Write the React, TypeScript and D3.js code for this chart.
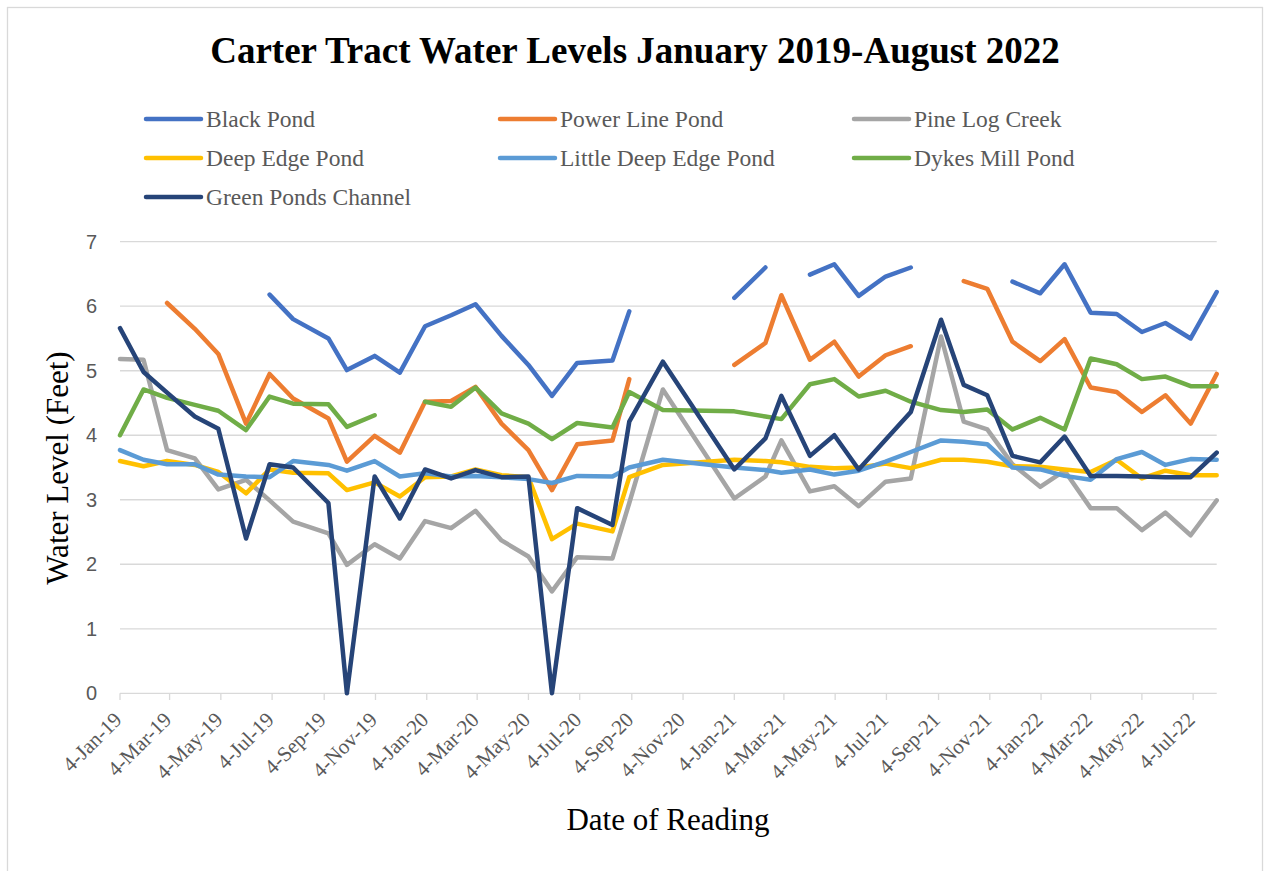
import React from "react";
import * as d3 from "d3";

const readingDates = [
  "2019-01-04","2019-02-01","2019-03-01","2019-04-03","2019-05-01","2019-06-03","2019-07-01","2019-07-29",
  "2019-09-09","2019-10-01","2019-11-03","2019-12-03","2020-01-02","2020-02-02","2020-03-02","2020-04-02",
  "2020-05-04","2020-06-01","2020-07-01","2020-08-12","2020-09-01","2020-10-11","2021-01-04","2021-02-10",
  "2021-03-01","2021-04-04","2021-05-03","2021-06-01","2021-07-03","2021-08-02","2021-09-07","2021-10-04",
  "2021-11-01","2021-12-01","2022-01-03","2022-02-01","2022-03-04","2022-04-04","2022-05-04","2022-06-01",
  "2022-07-01","2022-08-01",
];

const blackPond = [null,null,null,null,null,null,6.18,5.80,5.50,5.01,5.23,4.97,5.69,5.86,6.03,5.54,5.09,4.61,5.12,5.16,5.92,null,6.13,6.60,null,6.49,6.65,6.16,6.46,6.60,null,null,null,6.38,6.20,6.65,5.90,5.88,5.60,5.74,5.50,6.22];
const powerLinePond = [null,null,6.05,5.65,5.26,4.18,4.95,4.57,4.26,3.59,3.99,3.73,4.52,4.53,4.75,4.18,3.77,3.15,3.86,3.92,4.87,null,5.09,5.43,6.17,5.17,5.45,4.91,5.24,5.38,null,6.39,6.27,5.45,5.15,5.49,4.74,4.67,4.36,4.62,4.18,4.95];
const pineLogCreek = [5.18,5.17,3.77,3.64,3.16,3.31,2.99,2.66,2.48,1.99,2.31,2.09,2.67,2.56,2.83,2.37,2.12,1.58,2.11,2.09,2.95,4.71,3.02,3.36,3.92,3.13,3.21,2.90,3.28,3.33,5.53,4.21,4.09,3.55,3.20,3.45,2.87,2.87,2.53,2.80,2.45,2.99];
const deepEdgePond = [3.60,3.52,3.60,3.54,3.43,3.10,3.47,3.42,3.41,3.15,3.27,3.05,3.35,3.36,3.47,3.38,3.35,2.39,2.63,2.51,3.35,3.54,3.62,3.60,3.58,3.51,3.49,3.50,3.56,3.49,3.62,3.62,3.59,3.52,3.51,3.47,3.43,3.62,3.33,3.45,3.38,3.38];
const littleDeepEdgePond = [3.77,3.62,3.55,3.55,3.39,3.36,3.35,3.60,3.54,3.45,3.60,3.36,3.41,3.36,3.37,3.35,3.32,3.26,3.37,3.36,3.50,3.62,3.50,3.46,3.42,3.47,3.39,3.45,3.59,3.74,3.92,3.90,3.86,3.50,3.47,3.37,3.31,3.63,3.74,3.54,3.63,3.62];
const dykesMillPond = [4.00,4.71,4.58,4.47,4.38,4.08,4.60,4.49,4.48,4.13,4.31,null,4.52,4.44,4.74,4.34,4.18,3.94,4.19,4.12,4.67,4.39,4.37,4.29,4.25,4.79,4.87,4.60,4.69,4.52,4.39,4.36,4.40,4.09,4.27,4.09,5.19,5.10,4.87,4.91,4.76,4.76];
const greenPondsChannel = [5.66,4.98,4.66,4.29,4.10,2.40,3.55,3.50,2.95,0,3.36,2.71,3.47,3.33,3.46,3.35,3.36,0,2.87,2.61,4.21,5.14,3.47,3.95,4.61,3.68,4.00,3.47,3.93,4.36,5.79,4.78,4.62,3.68,3.58,3.98,3.37,3.37,3.36,3.35,3.35,3.73];

const seriesNames = ["Black Pond","Power Line Pond","Pine Log Creek","Deep Edge Pond","Little Deep Edge Pond","Dykes Mill Pond","Green Ponds Channel"];
const seriesValues = [blackPond, powerLinePond, pineLogCreek, deepEdgePond, littleDeepEdgePond, dykesMillPond, greenPondsChannel];
const seriesColors = ["#4472C4","#ED7D31","#A5A5A5","#FFC000","#5B9BD5","#70AD47","#264478"];
const yTicks = [0,1,2,3,4,5,6,7];

const title = "Carter Tract Water Levels January 2019-August 2022";
const xTitle = "Date of Reading";
const yTitle = "Water Level (Feet)";

const SERIF = "'Liberation Serif', 'Times New Roman', serif";
const SANS = "'Liberation Sans', Arial, sans-serif";

export default function App() {
  const parse = d3.timeParse("%Y-%m-%d");
  const dates = readingDates.map((s) => parse(s) as Date);
  const x = d3.scaleTime().domain([new Date(2019, 0, 4), new Date(2022, 7, 1)]).range([120, 1216.7]);
  const y = d3.scaleLinear().domain([0, 7]).range([693.3, 241.7]);
  const xTickDates = d3.timeMonth
    .range(new Date(2019, 0, 1), new Date(2022, 7, 2), 2)
    .map((d) => d3.timeDay.offset(d, 3))
    .filter((d) => d <= x.domain()[1]);
  const fmt = d3.timeFormat("%-d-%b-%y");

  const line = d3
    .line<{ d: Date; v: number | null }>()
    .defined((p) => p.v !== null)
    .x((p) => x(p.d))
    .y((p) => y(p.v as number));

  const legendCols = [146, 500, 854];
  const legendRows = [119, 158, 197];

  return (
    <svg width={1265} height={871} style={{ position: "absolute", left: 0, top: 0, background: "#fff" }}>
      <rect x={7.5} y={7.5} width={1255} height={900} fill="#fff" stroke="#d9d9d9" strokeWidth={1.3} />
      <text x={635} y={63} textAnchor="middle" fontFamily={SERIF} fontWeight="bold" fontSize={37} fill="#000">
        {title}
      </text>
      {seriesNames.map((name, i) => {
        const cx = legendCols[i % 3];
        const cy = legendRows[Math.floor(i / 3)];
        return (
          <g key={name}>
            <line x1={cx} x2={cx + 55} y1={cy} y2={cy} stroke={seriesColors[i]} strokeWidth={4.5} strokeLinecap="round" />
            <text x={cx + 60} y={cy} dy="0.34em" fontFamily={SERIF} fontSize={23.5} fill="#595959">
              {name}
            </text>
          </g>
        );
      })}
      {yTicks.map((t) => (
        <g key={t}>
          <line x1={120} x2={1216.7} y1={y(t)} y2={y(t)} stroke="#d9d9d9" strokeWidth={1.3} />
          <text x={97} y={y(t)} dy="0.35em" textAnchor="end" fontFamily={SANS} fontSize={20} fill="#595959">
            {t}
          </text>
        </g>
      ))}
      {xTickDates.map((d, i) => (
        <g key={i}>
          <line x1={x(d)} x2={x(d)} y1={693.3} y2={700} stroke="#d9d9d9" strokeWidth={1.3} />
          <text
            transform={`translate(${x(d) + 3},${721}) rotate(-45)`}
            textAnchor="end"
            fontFamily={SERIF}
            fontSize={21}
            fill="#595959"
          >
            {fmt(d)}
          </text>
        </g>
      ))}
      {seriesValues.map((vals, i) => (
        <path
          key={seriesNames[i]}
          d={line(vals.map((v, j) => ({ d: dates[j], v }))) || ""}
          fill="none"
          stroke={seriesColors[i]}
          strokeWidth={4.5}
          strokeLinecap="round"
          strokeLinejoin="round"
        />
      ))}
      <text x={668} y={830} textAnchor="middle" fontFamily={SERIF} fontSize={31} fill="#000">
        {xTitle}
      </text>
      <text transform="translate(68,468) rotate(-90)" textAnchor="middle" fontFamily={SERIF} fontSize={31} fill="#000">
        {yTitle}
      </text>
    </svg>
  );
}
